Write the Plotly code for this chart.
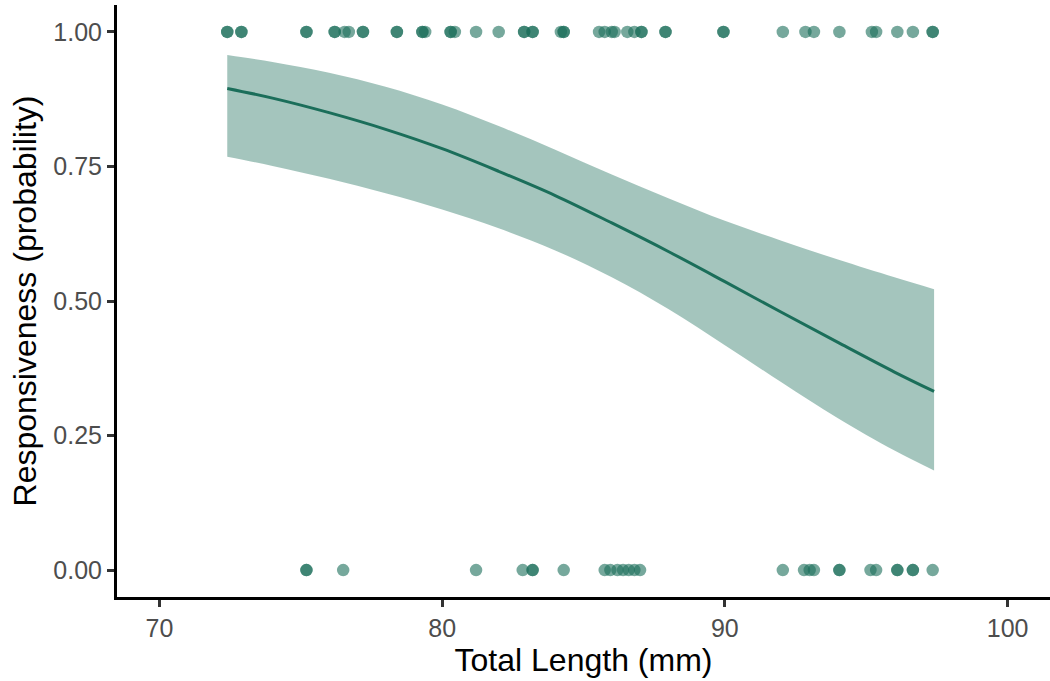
import plotly.graph_objects as go

# Observed responses (x = total length in mm)
resp1_x = [72.4, 72.4, 72.9, 72.9, 75.2, 75.2, 76.2, 76.2, 76.55, 76.7, 77.2, 77.2,
           78.4, 78.4, 79.3, 79.3, 79.4, 80.3, 80.3, 80.45, 81.2, 82.0, 82.9, 82.9,
           83.2, 83.2, 84.2, 84.3, 84.3, 85.55, 85.75, 86.0, 86.1, 86.55, 86.8,
           87.05, 87.05, 87.9, 87.9, 89.95, 89.95, 92.05, 92.85, 93.15, 94.05,
           95.2, 95.35, 96.1, 96.65, 97.35, 97.35]
resp0_x = [75.2, 75.2, 76.5, 81.2, 82.85, 83.2, 83.2, 84.3, 85.75, 85.95, 86.2,
           86.4, 86.6, 86.8, 87.0, 92.05, 92.8, 93.0, 93.15, 94.05, 94.05, 95.15,
           95.35, 96.1, 96.1, 96.65, 96.65, 97.35]

# Fitted probability and 95% band
fit_x = [72.4, 74, 76, 78, 80, 82, 84, 86, 88, 90, 92, 94, 96, 97.4]
fit_p = [0.895, 0.877, 0.850, 0.819, 0.783, 0.741, 0.696, 0.645, 0.592, 0.536,
         0.479, 0.423, 0.368, 0.332]
fit_lo = [0.768, 0.751, 0.727, 0.700, 0.670, 0.635, 0.594, 0.544, 0.485, 0.418,
          0.349, 0.282, 0.222, 0.185]
fit_hi = [0.957, 0.944, 0.924, 0.898, 0.865, 0.825, 0.781, 0.735, 0.691, 0.649,
          0.612, 0.577, 0.544, 0.522]

x_ticks = [70, 80, 90, 100]
y_ticks = [0, 0.25, 0.5, 0.75, 1.0]

base = "27,110,90"
fig = go.Figure()

fig.add_trace(go.Scatter(x=fit_x, y=fit_hi, mode="lines", line=dict(width=0, shape="spline"),
                         hoverinfo="skip", showlegend=False))
fig.add_trace(go.Scatter(x=fit_x, y=fit_lo, mode="lines", line=dict(width=0, shape="spline"),
                         fill="tonexty", fillcolor=f"rgba({base},0.4)",
                         hoverinfo="skip", showlegend=False))
fig.add_trace(go.Scatter(x=fit_x, y=fit_p, mode="lines",
                         line=dict(color=f"rgb({base})", width=3, shape="spline"),
                         showlegend=False))
fig.add_trace(go.Scatter(x=resp1_x, y=[1] * len(resp1_x), mode="markers",
                         marker=dict(size=12.5, color=f"rgba({base},0.6)", line=dict(width=0)),
                         showlegend=False))
fig.add_trace(go.Scatter(x=resp0_x, y=[0] * len(resp0_x), mode="markers",
                         marker=dict(size=12.5, color=f"rgba({base},0.6)", line=dict(width=0)),
                         showlegend=False))

font = "Liberation Sans, Arial, sans-serif"
fig.update_layout(
    width=1050, height=681,
    margin=dict(l=117, r=0, t=5, b=84),
    plot_bgcolor="white", paper_bgcolor="white",
    font=dict(family=font),
)
fig.update_xaxes(
    range=[68.5, 101.5], tickvals=x_ticks, ticktext=[str(v) for v in x_ticks],
    showgrid=False, zeroline=False, showline=True, linecolor="black", linewidth=3,
    ticks="outside", ticklen=7, tickwidth=2.5, tickcolor="#333333",
    tickfont=dict(size=25, color="#4d4d4d", family=font),
    title=dict(text="Total Length (mm)", font=dict(size=32, color="black", family=font), standoff=6),
)
fig.update_yaxes(
    range=[-0.05, 1.05], tickvals=y_ticks, ticktext=[f"{v:.2f}" for v in y_ticks],
    showgrid=False, zeroline=False, showline=True, linecolor="black", linewidth=3,
    ticks="outside", ticklen=7, tickwidth=2.5, tickcolor="#333333",
    tickfont=dict(size=25, color="#4d4d4d", family=font),
    title=dict(text="Responsiveness (probability)", font=dict(size=32, color="black", family=font), standoff=8),
)

fig.write_html("out.html")
